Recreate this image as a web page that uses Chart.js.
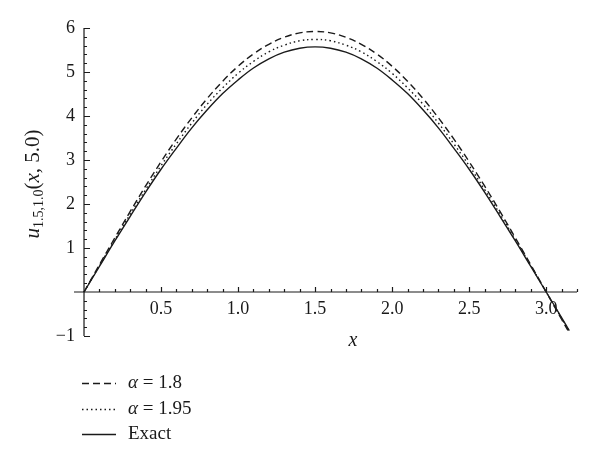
<!DOCTYPE html>
<html>
<head>
<meta charset="utf-8">
<script src="https://cdn.jsdelivr.net/npm/chart.js@4.4.1/dist/chart.umd.min.js"></script>
<style>
    html, body { margin: 0; padding: 0; background: #fff; }
    #wrap { width: 600px; height: 461px; }
</style>
</head>
<body>
<div id="wrap"><canvas id="chart" width="600" height="461"></canvas></div>
<script>
// --- Data ---
const xs = [0, 0.1, 0.2, 0.3, 0.4, 0.5, 0.6, 0.7, 0.8, 0.9, 1.0, 1.1, 1.2, 1.3, 1.4, 1.5,
    1.6, 1.7, 1.8, 1.9, 2.0, 2.1, 2.2, 2.3, 2.4, 2.5, 2.6, 2.7, 2.8, 2.9, 3.0, 3.1, 3.15];
const alpha18 = [0, 0.62, 1.23, 1.83, 2.41, 2.96, 3.48, 3.96, 4.40, 4.79, 5.13, 5.41, 5.63, 5.79, 5.89, 5.92,
    5.89, 5.79, 5.63, 5.41, 5.13, 4.79, 4.40, 3.96, 3.48, 2.96, 2.41, 1.83, 1.23, 0.62, 0, -0.62, -0.93];
const alpha195 = [0, 0.60, 1.19, 1.77, 2.33, 2.87, 3.37, 3.84, 4.27, 4.64, 4.97, 5.24, 5.46, 5.61, 5.71, 5.74,
    5.71, 5.61, 5.46, 5.24, 4.97, 4.64, 4.27, 3.84, 3.37, 2.87, 2.33, 1.77, 1.19, 0.60, 0, -0.60, -0.90];
const exact = [0, 0.58, 1.16, 1.72, 2.27, 2.79, 3.27, 3.73, 4.14, 4.51, 4.82, 5.09, 5.30, 5.45, 5.54, 5.57,
    5.54, 5.45, 5.30, 5.09, 4.82, 4.51, 4.14, 3.73, 3.27, 2.79, 2.27, 1.72, 1.16, 0.58, 0, -0.58, -0.88];

const xTickLabels = ['0.5', '1.0', '1.5', '2.0', '2.5', '3.0'];
const yTickLabels = ['\u22121', '1', '2', '3', '4', '5', '6'];
const seriesNames = ['1.8', '1.95', 'Exact'];

const INK = '#1a1a1a';
const SERIF = '"Liberation Serif", "DejaVu Serif", serif';

const toPoints = (ys) => xs.map((x, i) => ({ x: x, y: ys[i] }));

// --- Axes through the origin, ticks, titles, legend ---
const axesPlugin = {
    id: 'axesPlugin',
    afterDraw(chart) {
        const { ctx, chartArea } = chart;
        const sx = chart.scales.x, sy = chart.scales.y;
        const x0 = sx.getPixelForValue(0);
        const y0 = sy.getPixelForValue(0);

        ctx.save();
        ctx.strokeStyle = INK;
        ctx.fillStyle = INK;
        ctx.lineWidth = 1.2;

        // axis lines
        ctx.beginPath();
        ctx.moveTo(chartArea.left, y0);
        ctx.lineTo(chartArea.right, y0);
        ctx.moveTo(x0, sy.getPixelForValue(-1));
        ctx.lineTo(x0, sy.getPixelForValue(6));
        ctx.stroke();

        // x ticks: every 0.1, major every 0.5
        ctx.beginPath();
        for (let i = 1; i <= 32; i++) {
            const px = Math.round(sx.getPixelForValue(i / 10)) + 0.5;
            const len = i % 5 === 0 ? 5 : 3;
            ctx.moveTo(px, y0);
            ctx.lineTo(px, y0 - len);
        }
        // y ticks: every 0.2, major every 1
        for (let i = -5; i <= 30; i++) {
            if (i === 0) continue;
            const py = Math.round(sy.getPixelForValue(i / 5)) + 0.5;
            const len = i % 5 === 0 ? 6 : 3;
            ctx.moveTo(x0, py);
            ctx.lineTo(x0 + len, py);
        }
        ctx.stroke();

        // tick labels
        ctx.font = '18px ' + SERIF;
        ctx.textAlign = 'center';
        ctx.textBaseline = 'middle';
        xTickLabels.forEach(t => {
            ctx.fillText(t, sx.getPixelForValue(parseFloat(t)), y0 + 17);
        });
        ctx.textAlign = 'right';
        yTickLabels.forEach(t => {
            const v = parseFloat(t.replace('\u2212', '-'));
            ctx.fillText(t, x0 - 9, sy.getPixelForValue(v));
        });

        // x title
        ctx.textAlign = 'center';
        ctx.font = 'italic 20px ' + SERIF;
        ctx.fillText('x', 353, 341);

        // y title, rotated
        ctx.save();
        ctx.translate(39, 184);
        ctx.rotate(-Math.PI / 2);
        ctx.textAlign = 'left';
        ctx.textBaseline = 'alphabetic';
        const parts = [
            { t: 'u', f: 'italic 21px ' + SERIF, dy: 0 },
            { t: '1.5,1.0', f: '14px ' + SERIF, dy: 4 },
            { t: '(', f: '21px ' + SERIF, dy: 0 },
            { t: 'x', f: 'italic 21px ' + SERIF, dy: 0 },
            { t: ', 5.0)', f: '21px ' + SERIF, dy: 0 }
        ];
        let total = 0;
        parts.forEach(p => { ctx.font = p.f; p.w = ctx.measureText(p.t).width; total += p.w; });
        let cx = -total / 2;
        parts.forEach(p => { ctx.font = p.f; ctx.fillText(p.t, cx, p.dy); cx += p.w; });
        ctx.restore();

        // legend
        const dashes = [[7, 4], [1.5, 3], []];
        const rows = [383, 409, 434];
        rows.forEach((ry, i) => {
            ctx.setLineDash(dashes[i]);
            ctx.lineWidth = 1.4;
            ctx.beginPath();
            ctx.moveTo(82, ry + 0.5);
            ctx.lineTo(116, ry + 0.5);
            ctx.stroke();
            ctx.setLineDash([]);
            ctx.textAlign = 'left';
            ctx.textBaseline = 'middle';
            let tx = 128;
            if (i < 2) {
                ctx.font = 'italic 19px ' + SERIF;
                ctx.fillText('\u03b1', tx, ry);
                tx += ctx.measureText('\u03b1').width;
                ctx.font = '19px ' + SERIF;
                ctx.fillText(' = ' + seriesNames[i], tx, ry);
            } else {
                ctx.font = '19px ' + SERIF;
                ctx.fillText(seriesNames[i], tx, ry);
            }
        });

        ctx.restore();
    }
};

const lineDs = (label, ys, dash, width) => ({
    label: label,
    data: toPoints(ys),
    borderColor: INK,
    borderWidth: width,
    borderDash: dash,
    pointRadius: 0,
    tension: 0.4,
    fill: false
});

new Chart(document.getElementById('chart'), {
    type: 'line',
    data: {
        datasets: [
            lineDs('alpha = 1.8', alpha18, [7, 4], 1.4),
            lineDs('alpha = 1.95', alpha195, [1.5, 3], 1.4),
            lineDs('Exact', exact, [], 1.4)
        ]
    },
    options: {
        responsive: false,
        devicePixelRatio: 1,
        animation: false,
        layout: { padding: { left: 74, right: 23, top: 28, bottom: 125 } },
        scales: {
            x: { type: 'linear', min: -0.065, max: 3.2, display: false },
            y: { type: 'linear', min: -1, max: 6, display: false }
        },
        plugins: {
            legend: { display: false },
            tooltip: { enabled: false }
        }
    },
    plugins: [axesPlugin]
});
</script>
</body>
</html>
